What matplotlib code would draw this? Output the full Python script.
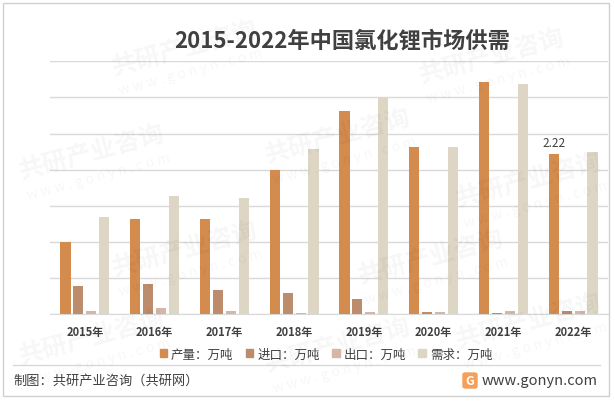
import numpy as np
import matplotlib.pyplot as plt
from matplotlib.patches import Rectangle, FancyBboxPatch
from matplotlib.lines import Line2D

plt.rcParams['font.family'] = ['Noto Sans CJK SC', 'DejaVu Sans']

# 数据
years = ['2015年', '2016年', '2017年', '2018年', '2019年', '2020年', '2021年', '2022年']
production = [1.00, 1.31, 1.31, 2.00, 2.81, 2.31, 3.21, 2.22]
imports = [0.39, 0.42, 0.33, 0.29, 0.21, 0.03, 0.015, 0.04]
exports = [0.04, 0.08, 0.04, 0.015, 0.03, 0.03, 0.04, 0.04]
demand = [1.35, 1.64, 1.60, 2.28, 2.99, 2.31, 3.18, 2.24]
series_names = ['产量：万吨', '进口：万吨', '出口：万吨', '需求：万吨']

colors = ['#D38B4E', '#BC8C6C', '#D7B6A8', '#DDD6C5']
txt = '#404040'

fig = plt.figure(figsize=(6.15, 4.02), dpi=100)
ax = fig.add_axes([50 / 615, 87 / 402, 558 / 615, 252.7 / 402])

# 水印（淡）
for (wx, wy) in [(0.3, 0.88), (0.8, 0.86), (0.15, 0.62), (0.55, 0.66), (0.86, 0.55),
                 (0.3, 0.38), (0.7, 0.36), (0.15, 0.16), (0.55, 0.14), (0.86, 0.2)]:
    fig.text(wx, wy, '共研产业咨询', fontsize=18, fontweight='bold', color='#000000',
             alpha=0.035, rotation=15, ha='center', va='center')
    fig.text(wx + 0.01, wy - 0.06, 'w w w . g o n y n . c o m', fontsize=10, color='#000000',
             alpha=0.035, rotation=15, ha='center', va='center')

x = np.arange(len(years))
w = 0.145
step = 0.185
for i, vals in enumerate([production, imports, exports, demand]):
    ax.bar(x + (i - 1.5) * step, vals, width=w, color=colors[i], label=series_names[i], zorder=3)

ax.text(x[-1] - 1.5 * step, production[-1] + 0.07, f'{production[-1]:.2f}', ha='center', va='bottom',
        fontsize=8.5, color=txt)

ax.set_xlim(-0.5, len(years) - 0.5)
ax.set_ylim(0, 3.5)
ax.set_yticks(np.arange(0, 3.51, 0.5))
ax.set_yticklabels([])
ax.tick_params(axis='y', length=0)
ax.tick_params(axis='x', length=0, pad=8)
ax.set_xticks(x)
ax.set_xticklabels(years, fontsize=8, fontweight='bold', color=txt)
ax.grid(axis='y', color='#D9D9D9', linewidth=1, zorder=0)
for s in ['top', 'right', 'left']:
    ax.spines[s].set_visible(False)
ax.spines['bottom'].set_color('#D9D9D9')
ax.patch.set_alpha(0)

# 标题
fig.text(342 / 615, 1 - 41 / 402, '2015-2022年中国氯化锂市场供需', ha='center', va='center',
         fontsize=16, fontweight='bold', color=txt)

# 图例
handles = [Rectangle((0, 0), 1, 1, color=c) for c in colors]
fig.legend(handles, series_names, loc='center', bbox_to_anchor=(326 / 615, 1 - 355 / 402), ncol=4,
           frameon=False, fontsize=9, handlelength=0.6, handleheight=0.6, handletextpad=0.3,
           columnspacing=1.0, labelcolor=txt)

# 底部
fig.add_artist(Line2D([13 / 615, 600 / 615], [1 - 366 / 402, 1 - 366 / 402], color='#D9D9D9', lw=1))
fig.text(13 / 615, 1 - 381 / 402, '制图：共研产业咨询（共研网）', ha='left', va='center',
         fontsize=9.5, color=txt)
fig.text(598 / 615, 1 - 381 / 402, 'www.gonyn.com', ha='right', va='center', fontsize=10.5, color=txt)
fig.add_artist(FancyBboxPatch((463 / 615, 1 - 389 / 402), 14 / 615, 15 / 402,
                              boxstyle='round,pad=0,rounding_size=0.004', color='#F5A05A',
                              transform=fig.transFigure))
fig.text(470 / 615, 1 - 381.5 / 402, 'G', ha='center', va='center', fontsize=9, fontweight='bold',
         color='white')

# 外框
fig.add_artist(Rectangle((3 / 615, 1 - 397 / 402), 606 / 615, 393 / 402, fill=False,
                         edgecolor='#D0D0D0', lw=1, transform=fig.transFigure))

plt.savefig('out.png', dpi=100)
